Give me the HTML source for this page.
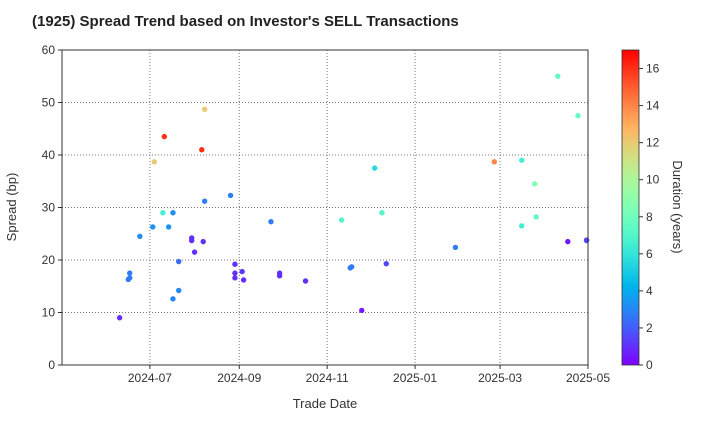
<!DOCTYPE html>
<html><head><meta charset="utf-8"><style>
body{margin:0;background:#fff;font-family:"Liberation Sans",sans-serif}
svg text{font-family:"Liberation Sans",sans-serif}
</style></head><body>
<svg id="c" width="720" height="420" xmlns="http://www.w3.org/2000/svg">
<text x="32" y="26" text-anchor="start" font-size="15" font-weight="bold" fill="#222">(1925)   Spread Trend based on Investor's SELL Transactions</text>
<g id="grid"></g><g id="pts"></g><g id="axes"></g>
<text x="325" y="408" text-anchor="middle" font-size="13" fill="#333">Trade Date</text>
<text transform="translate(16,207) rotate(-90)" text-anchor="middle" font-size="13" fill="#333">Spread (bp)</text>
<defs><linearGradient id="cb" x1="0" y1="1" x2="0" y2="0"></linearGradient></defs>
<rect x="622" y="50" width="17" height="315" fill="url(#cb)" stroke="#333" stroke-width="0.8"/>
<g id="cbt"></g>
<text transform="translate(673,207) rotate(90)" text-anchor="middle" font-size="13" fill="#333">Duration (years)</text>
</svg>
<script>
const dates=["2024-06-10","2024-06-16","2024-06-17","2024-06-17","2024-06-24","2024-07-03","2024-07-04","2024-07-10","2024-07-11","2024-07-14","2024-07-17","2024-07-17","2024-07-21","2024-07-21","2024-07-30","2024-07-30","2024-08-01","2024-08-06","2024-08-08","2024-08-08","2024-08-07","2024-08-26","2024-08-29","2024-08-29","2024-08-29","2024-09-03","2024-09-04","2024-09-23","2024-09-29","2024-09-29","2024-10-17","2024-11-11","2024-11-17","2024-11-18","2024-11-25","2024-12-04","2024-12-09","2024-12-12","2025-01-29","2025-02-25","2025-03-16","2025-03-16","2025-03-25","2025-03-26","2025-04-10","2025-04-17","2025-04-24","2025-04-30","2025-04-30"];
const spreads=[9,16.3,16.6,17.5,24.5,26.3,38.7,29,43.5,26.3,29,12.6,14.2,19.7,24.2,23.7,21.5,41,48.7,31.2,23.5,32.3,19.2,17.5,16.6,17.8,16.2,27.3,17.5,17,16,27.6,18.5,18.7,10.4,37.5,29,19.3,22.4,38.7,39,26.5,34.5,28.2,55,23.5,47.5,23.8,23.7];
const durations=[1,2.7,2.7,2.8,3.2,3.3,12,6.5,16,3.3,3.2,3,3,2.3,1,1,1,16,12,2.8,1,2.8,1,1,1,1.2,1,2.8,1,1,1,7,2.8,2.8,0.5,5.5,7,1.5,2.8,14,6.5,6.5,8.5,7.5,7.5,0.5,7.5,1.5,1.5];
const xTicks=["2024-07-01","2024-09-01","2024-11-01","2025-01-01","2025-03-01","2025-05-01"];
const xTickLabels=["2024-07","2024-09","2024-11","2025-01","2025-03","2025-05"];
const yTicks=[0,10,20,30,40,50,60];
const cTicks=[0,2,4,6,8,10,12,14,16];
const L=62,R=588,T=50,B=365,d0=Date.parse("2024-05-01"),d1=Date.parse("2025-05-01"),cMax=17;
const xs=d=>L+(Date.parse(d)-d0)/(d1-d0)*(R-L);
const ys=v=>B-v/60*(B-T);
function cmap(t){t=Math.max(0,Math.min(1,t));const r=Math.min(1,Math.abs(2*t-0.5)),g=Math.sin(Math.PI*t),b=Math.cos(Math.PI*t/2);return `rgb(${Math.round(r*255)},${Math.round(g*255)},${Math.round(b*255)})`;}
const NS="http://www.w3.org/2000/svg";
function mk(tag,a,p){const e=document.createElementNS(NS,tag);for(const k in a)e.setAttribute(k,a[k]);p.appendChild(e);return e;}
const grid=document.getElementById('grid'),axes=document.getElementById('axes'),pts=document.getElementById('pts');
xTicks.forEach((d,i)=>{const x=xs(d);
const gl=mk('line',{x1:x,x2:x,y1:T,y2:B,stroke:'#777','stroke-dasharray':'1,2','stroke-width':1},grid);


mk('line',{x1:x,x2:x,y1:B,y2:B+4,stroke:'#333'},axes);
const t=mk('text',{x:x,y:B+17,'text-anchor':'middle','font-size':12,fill:'#333'},axes);t.textContent=xTickLabels[i];

});
yTicks.forEach(v=>{const y=ys(v);
const gl=mk('line',{x1:L,x2:R,y1:y,y2:y,stroke:'#777','stroke-dasharray':'1,2','stroke-width':1},grid);


mk('line',{x1:L-4,x2:L,y1:y,y2:y,stroke:'#333'},axes);
const t=mk('text',{x:L-7,y:y+4,'text-anchor':'end','font-size':12,fill:'#333'},axes);t.textContent=v;

});
const fr=mk('rect',{x:L,y:T,width:R-L,height:B-T,fill:'none',stroke:'#333','stroke-width':1},axes);


dates.forEach((d,i)=>{const c=mk('circle',{cx:xs(d),cy:ys(spreads[i]),r:2.7,fill:cmap(durations[i]/cMax)},pts);

});
const g=document.getElementById('cb');
for(let i=0;i<=20;i++){mk('stop',{offset:i/20,'stop-color':cmap(i/20)},g);}
const cbt=document.getElementById('cbt');
cTicks.forEach(v=>{const y=B-v/cMax*(B-T);
mk('line',{x1:639,x2:643,y1:y,y2:y,stroke:'#333'},cbt);
const t=mk('text',{x:646,y:y+4,'font-size':12,fill:'#333'},cbt);t.textContent=v;

});
</script>
</body></html>
